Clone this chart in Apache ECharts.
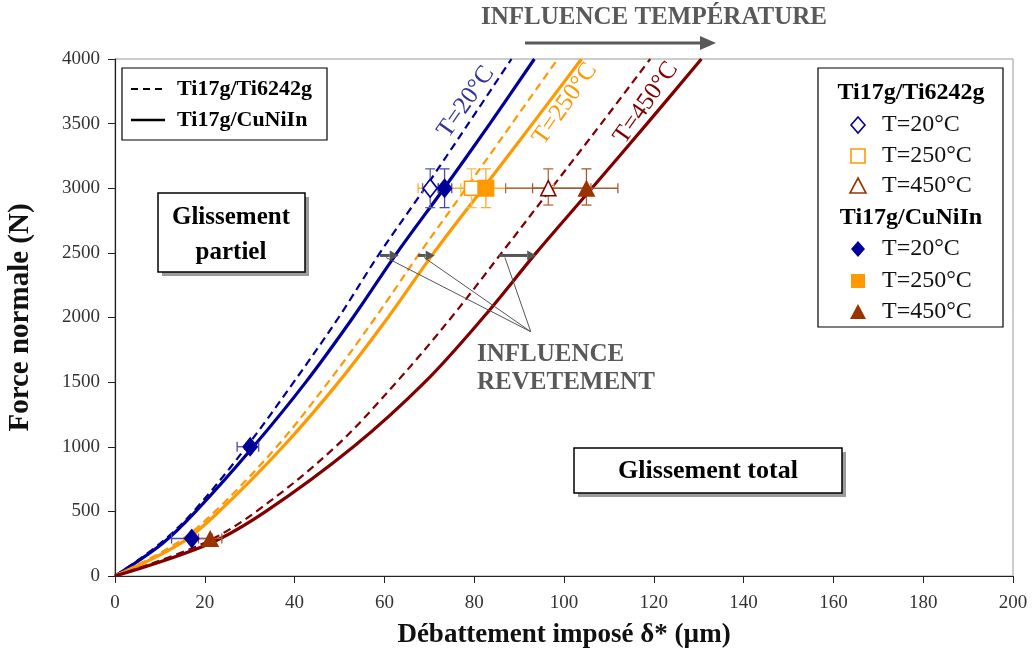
<!DOCTYPE html>
<html>
<head>
<meta charset="utf-8">
<script src="https://cdn.jsdelivr.net/npm/echarts@6/dist/echarts.min.js"></script>
<style>html,body{margin:0;padding:0;background:#fff}#main{width:1032px;height:652px}</style>
</head>
<body>
<div id="main"></div>
<script>
// ---------- DATA ----------
const xTicks = [0, 20, 40, 60, 80, 100, 120, 140, 160, 180, 200];
const yTicks = [0, 500, 1000, 1500, 2000, 2500, 3000, 3500, 4000];
const forceLevels = [0, 250, 500, 1000, 1500, 2000, 2500, 3000, 3500, 4000];
// displacement (µm) read at each force level for each curve
const curveTi6242_20  = [0, 10.0, 17.5, 29.3, 39.8, 49.8, 59.0, 69.0, 78.7, 88.3];
const curveCuNiIn_20  = [0, 10.5, 18.0, 30.8, 42.5, 53.0, 62.8, 73.3, 83.5, 93.4];
const curveTi6242_250 = [0, 13.5, 22.3, 36.0, 47.5, 58.0, 67.9, 78.2, 88.4, 98.6];
const curveCuNiIn_250 = [0, 14.5, 23.2, 37.4, 49.8, 60.8, 71.0, 82.0, 93.0, 103.9];
const curveTi6242_450 = [0, 19.5, 31.5, 49.1, 62.7, 74.9, 86.1, 97.2, 108.3, 119.2];
const curveCuNiIn_450 = [0, 21.0, 33.6, 53.1, 69.0, 82.0, 93.8, 106.2, 118.5, 130.6];

// measured points [x, y]
const ptsTi6242_20  = [[70.2, 3000]];
const ptsCuNiIn_20  = [[30.1, 1000], [17.1, 290], [73.4, 3000]];
const ptsTi6242_250 = [[79.4, 3000]];
const ptsCuNiIn_250 = [[82.6, 3000]];
const ptsTi6242_450 = [[96.5, 3000]];
const ptsCuNiIn_450 = [[21.2, 290], [105.0, 3000]];

// error bars [x, y, xLow, xHigh, yLow, yHigh]
const errTi6242_20  = [[70.2, 3000, 68.5, 72.0, 2850, 3150]];
const errCuNiIn_20  = [[30.1, 1000, 27.2, 32.0, 1000, 1000], [17.1, 290, 12.6, 21.6, 290, 290], [73.4, 3000, 72.0, 75.0, 2850, 3150]];
const errTi6242_250 = [[79.4, 3000, 77.0, 81.5, 2850, 3150]];
const errCuNiIn_250 = [[82.6, 3000, 67.5, 97.7, 2850, 3150]];
const errTi6242_450 = [[96.5, 3000, 87.0, 106.0, 2870, 3150]];
const errCuNiIn_450 = [[21.2, 290, 18.6, 23.8, 290, 290], [105.0, 3000, 93.0, 112.0, 2870, 3150]];

const seriesNames = ['Ti17g/Ti6242g', 'Ti17g/CuNiIn'];
const tempLabels = ['T=20°C', 'T=250°C', 'T=450°C'];

// ---------- STYLE ----------
const NAVY = '#000099', ORANGE = '#FF9900', DRED = '#800000', BROWN = '#993300';
const SERIF = '"Liberation Serif", "DejaVu Serif", serif';
const GRAY = '#595959';

function pairs(xs) { return xs.map((x, i) => [x, forceLevels[i]]); }

function lineSeries(name, xs, color, dashed) {
  return {
    name: name, type: 'line', data: pairs(xs), smooth: 0.35, symbol: 'none', z: 3,
    lineStyle: { color: color, width: dashed ? 2.2 : 3.2, type: dashed ? [8, 5] : 'solid' }
  };
}
function errSeries(data, color) {
  return {
    type: 'custom', data: data, z: 4, silent: true,
    encode: { x: [0, 2, 3], y: [1, 4, 5] },
    renderItem: function (params, api) {
      const c = api.coord([api.value(0), api.value(1)]);
      const xl = api.coord([api.value(2), api.value(1)]);
      const xh = api.coord([api.value(3), api.value(1)]);
      const yl = api.coord([api.value(0), api.value(4)]);
      const yh = api.coord([api.value(0), api.value(5)]);
      const st = { stroke: color, lineWidth: 1.3 };
      const ch = [];
      if (api.value(3) > api.value(2)) {
        ch.push({ type: 'line', shape: { x1: xl[0], y1: c[1], x2: xh[0], y2: c[1] }, style: st });
        ch.push({ type: 'line', shape: { x1: xl[0], y1: c[1] - 5, x2: xl[0], y2: c[1] + 5 }, style: st });
        ch.push({ type: 'line', shape: { x1: xh[0], y1: c[1] - 5, x2: xh[0], y2: c[1] + 5 }, style: st });
      }
      if (api.value(5) > api.value(4)) {
        ch.push({ type: 'line', shape: { x1: c[0], y1: yl[1], x2: c[0], y2: yh[1] }, style: st });
        ch.push({ type: 'line', shape: { x1: c[0] - 5, y1: yl[1], x2: c[0] + 5, y2: yl[1] }, style: st });
        ch.push({ type: 'line', shape: { x1: c[0] - 5, y1: yh[1], x2: c[0] + 5, y2: yh[1] }, style: st });
      }
      return { type: 'group', children: ch };
    }
  };
}
function scatterSeries(data, symbol, size, fill, stroke) {
  return {
    type: 'scatter', data: data, symbol: symbol, symbolSize: size, z: 5,
    itemStyle: { color: fill, borderColor: stroke, borderWidth: fill === '#fff' ? 1.6 : 0, opacity: 1 }
  };
}

const chart = echarts.init(document.getElementById('main'), null, { renderer: 'canvas' });

const option = {
  animation: false,
  backgroundColor: '#fff',
  grid: { left: 115, right: 19, top: 59, bottom: 76, show: true, borderColor: '#9a9a9a', borderWidth: 1,
          containLabel: false, outerBoundsMode: 'none' },
  xAxis: {
    type: 'value', min: xTicks[0], max: xTicks[xTicks.length - 1], interval: xTicks[1] - xTicks[0],
    axisLine: { lineStyle: { color: '#222', width: 1.2 } },
    axisTick: { length: 7, lineStyle: { color: '#222' } },
    splitLine: { show: false },
    axisLabel: { fontFamily: SERIF, fontSize: 19, color: '#333', margin: 18, formatter: v => String(v) },
    name: 'Débattement imposé δ* (µm)', nameLocation: 'middle', nameGap: 46,
    nameTextStyle: { fontFamily: SERIF, fontSize: 27, fontWeight: 'bold', color: '#111' }
  },
  yAxis: {
    type: 'value', min: yTicks[0], max: yTicks[yTicks.length - 1], interval: yTicks[1] - yTicks[0],
    axisLine: { show: true, lineStyle: { color: '#222', width: 1.2 } },
    axisTick: { show: true, length: 7, lineStyle: { color: '#222' } },
    splitLine: { show: false },
    axisLabel: { fontFamily: SERIF, fontSize: 19, color: '#333', margin: 15, formatter: v => String(v) },
    name: 'Force normale (N)', nameLocation: 'middle', nameGap: 80, nameRotate: 90,
    nameTextStyle: { fontFamily: SERIF, fontSize: 29, fontWeight: 'bold', color: '#111' }
  },
  series: [
    lineSeries(seriesNames[0] + ' ' + tempLabels[0], curveTi6242_20, NAVY, true),
    lineSeries(seriesNames[1] + ' ' + tempLabels[0], curveCuNiIn_20, NAVY, false),
    lineSeries(seriesNames[0] + ' ' + tempLabels[1], curveTi6242_250, ORANGE, true),
    lineSeries(seriesNames[1] + ' ' + tempLabels[1], curveCuNiIn_250, ORANGE, false),
    lineSeries(seriesNames[0] + ' ' + tempLabels[2], curveTi6242_450, DRED, true),
    lineSeries(seriesNames[1] + ' ' + tempLabels[2], curveCuNiIn_450, DRED, false),
    errSeries(errTi6242_20, '#5c5cb0'),
    errSeries(errCuNiIn_20, '#4a4aa8'),
    errSeries(errTi6242_250, '#ffbb55'),
    errSeries(errCuNiIn_250, '#ffaa33'),
    errSeries(errTi6242_450, '#b36b45'),
    errSeries(errCuNiIn_450, '#a55a35'),
    scatterSeries(ptsTi6242_20, 'diamond', [14, 18], '#fff', NAVY),
    scatterSeries(ptsCuNiIn_20, 'diamond', [16, 20], NAVY, NAVY),
    scatterSeries(ptsTi6242_250, 'rect', [14, 14], '#fff', ORANGE),
    scatterSeries(ptsCuNiIn_250, 'rect', [17, 17], ORANGE, ORANGE),
    scatterSeries(ptsTi6242_450, 'triangle', [15, 15], '#fff', DRED),
    scatterSeries(ptsCuNiIn_450, 'triangle', [18, 17], BROWN, BROWN)
  ]
};
chart.setOption(option);

// ---------- ANNOTATIONS ----------
const P = (x, y) => chart.convertToPixel({ gridIndex: 0 }, [x, y]);
const g = [];
function txt(x, y, text, font, fill, align, rot) {
  g.push({ type: 'text', x: x, y: y, rotation: rot || 0, z: 20,
    style: { text: text, x: 0, y: 0, font: font, fill: fill, align: align || 'center', verticalAlign: 'middle' } });
}
function arrow(x1, y1, x2, y2, color, w, hl, hw) {
  const dir = Math.sign(x2 - x1);
  g.push({ type: 'line', z: 20, shape: { x1: x1, y1: y1, x2: x2 - dir * hl, y2: y2 }, style: { stroke: color, lineWidth: w } });
  g.push({ type: 'polygon', z: 20, shape: { points: [[x2 - dir * hl, y2 - hw], [x2, y2], [x2 - dir * hl, y2 + hw]] }, style: { fill: color } });
}
function box(x, y, w, h) {
  g.push({ type: 'rect', z: 18, shape: { x: x + 4, y: y + 4, width: w, height: h }, style: { fill: '#9c9c9c' } });
  g.push({ type: 'rect', z: 19, shape: { x: x, y: y, width: w, height: h }, style: { fill: '#fff', stroke: '#000', lineWidth: 1.5 } });
}

// Top: temperature influence
txt(654, 18, 'INFLUENCE TEMPÉRATURE', 'bold 25px ' + SERIF, GRAY);
arrow(525, 43, 716, 43, GRAY, 3, 16, 7);

// rotated temperature labels
const rot = 55 * Math.PI / 180;
txt(466, 102, tempLabels[0], '25px ' + SERIF, '#333399', 'center', rot);
txt(565, 104, tempLabels[1], '25px ' + SERIF, ORANGE, 'center', rot);
txt(646, 103, tempLabels[2], '25px ' + SERIF, DRED, 'center', rot);

// Coating influence arrows + connectors (data-positioned)
const arrowF = 2480;
const arrowPairs = [[59.0, 63.2], [67.5, 71.2], [85.5, 93.8]];
const hub = P(92.6, 1890);
arrowPairs.forEach(function (a) {
  const p1 = P(a[0], arrowF), p2 = P(a[1], arrowF);
  g.push({ type: 'line', z: 19, shape: { x1: p1[0] + 6, y1: p1[1] + 2, x2: hub[0], y2: hub[1] }, style: { stroke: '#555', lineWidth: 1 } });
  arrow(p1[0], p1[1], p2[0], p2[1], '#555', 3, 9, 5);
});
txt(477, 355, 'INFLUENCE', 'bold 25px ' + SERIF, GRAY, 'left');
txt(477, 383, 'REVETEMENT', 'bold 25px ' + SERIF, GRAY, 'left');

// Regime boxes
box(158, 193, 147, 79);
txt(231, 218, 'Glissement', 'bold 25px ' + SERIF, '#000');
txt(231, 253, 'partiel', 'bold 25px ' + SERIF, '#000');
box(574, 448, 268, 45);
txt(708, 471, 'Glissement total', 'bold 26px ' + SERIF, '#000');

// Line-style legend
g.push({ type: 'rect', z: 19, shape: { x: 122, y: 68, width: 205, height: 72 }, style: { fill: '#fff', stroke: '#000', lineWidth: 1.2 } });
g.push({ type: 'line', z: 20, shape: { x1: 131, y1: 89, x2: 165, y2: 89 }, style: { stroke: '#000', lineWidth: 2, lineDash: [7, 5] } });
g.push({ type: 'line', z: 20, shape: { x1: 131, y1: 120, x2: 165, y2: 120 }, style: { stroke: '#000', lineWidth: 2.5 } });
txt(177, 89, seriesNames[0], 'bold 22px ' + SERIF, '#000', 'left');
txt(177, 120, seriesNames[1], 'bold 22px ' + SERIF, '#000', 'left');

// Marker legend
g.push({ type: 'rect', z: 19, shape: { x: 818, y: 68, width: 185, height: 259 }, style: { fill: '#fff', stroke: '#000', lineWidth: 1.2 } });
txt(911, 93, seriesNames[0], 'bold 24px ' + SERIF, '#000');
txt(911, 218, seriesNames[1], 'bold 24px ' + SERIF, '#000');
const legRows = [125, 156, 186, 249, 281, 312];
const legCols = [NAVY, ORANGE, BROWN];
legRows.forEach(function (y, i) {
  const open = i < 3, col = legCols[i % 3], mx = 858, kind = i % 3;
  const st = open ? { fill: '#fff', stroke: col, lineWidth: 1.6 } : { fill: col };
  if (kind === 0) g.push({ type: 'polygon', z: 20, shape: { points: [[mx, y - 8], [mx + 7, y], [mx, y + 8], [mx - 7, y]] }, style: st });
  if (kind === 1) g.push({ type: 'rect', z: 20, shape: { x: mx - 7, y: y - 7, width: 14, height: 14 }, style: st });
  if (kind === 2) g.push({ type: 'polygon', z: 20, shape: { points: [[mx, y - 8], [mx + 8, y + 7], [mx - 8, y + 7]] }, style: st });
  txt(882, y, tempLabels[i % 3], '24px ' + SERIF, '#111', 'left');
});

chart.setOption({ graphic: g });
</script>
</body>
</html>
